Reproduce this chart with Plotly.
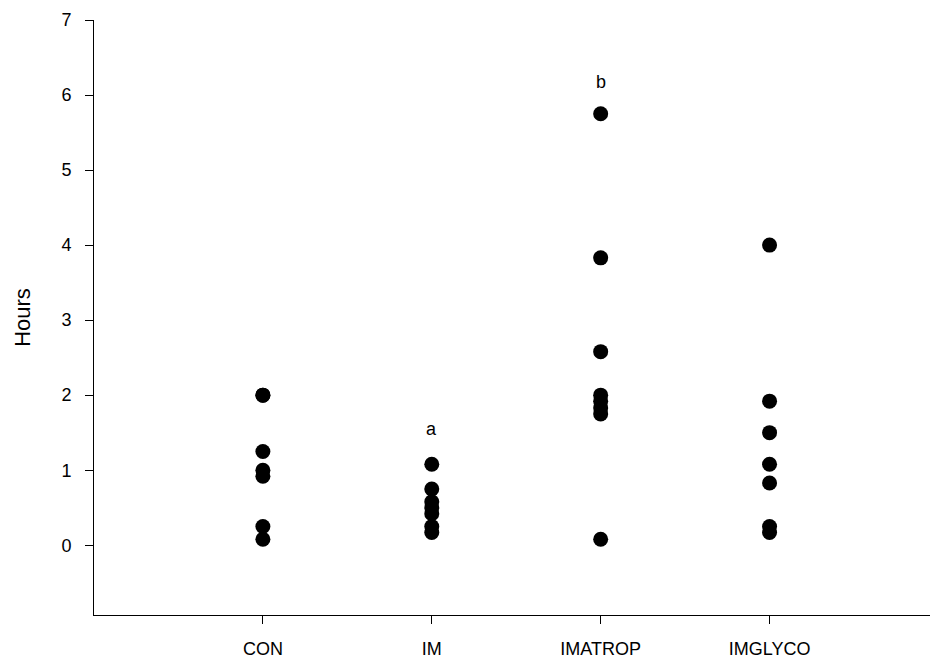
import plotly.graph_objects as go

categories = ["CON", "IM", "IMATROP", "IMGLYCO"]
con = [2.0, 2.0, 1.25, 1.0, 0.92, 0.25, 0.08]
im = [1.08, 0.75, 0.58, 0.5, 0.42, 0.25, 0.17]
imatrop = [5.75, 3.83, 2.58, 2.0, 1.92, 1.83, 1.75, 0.08]
imglyco = [4.0, 1.92, 1.5, 1.08, 0.83, 0.25, 0.17]
groups = [con, im, imatrop, imglyco]
letters = [("IM", 1.55, "a"), ("IMATROP", 6.17, "b")]

fig = go.Figure()
for i, vals in enumerate(groups):
    fig.add_trace(go.Scatter(
        x=[i + 1] * len(vals), y=vals, mode="markers",
        marker=dict(color="black", size=15, line=dict(width=0)),
        showlegend=False, hoverinfo="y"))

fam = "Arial, Liberation Sans, sans-serif"
for cat, yv, txt in letters:
    fig.add_annotation(x=categories.index(cat) + 1, y=yv, text=txt,
                       showarrow=False, font=dict(family=fam, size=18, color="black"))

axis_font = dict(family=fam, size=18, color="black")
fig.update_layout(
    width=930, height=660,
    margin=dict(l=94, r=0, t=20, b=45),
    plot_bgcolor="white", paper_bgcolor="white",
    font=axis_font,
    xaxis=dict(range=[0, 4.95], tickmode="array", tickvals=[1, 2, 3, 4],
               ticktext=categories, showgrid=False, zeroline=False,
               showline=True, linecolor="black", linewidth=1,
               ticks="outside", ticklen=8, tickcolor="black",
               ticklabelstandoff=9, tickfont=axis_font),
    yaxis=dict(range=[-0.93, 7], tickmode="array", tickvals=list(range(0, 8)),
               showgrid=False, zeroline=False,
               showline=True, linecolor="black", linewidth=1,
               ticks="outside", ticklen=8, tickcolor="black",
               ticklabelstandoff=10, tickfont=axis_font,
               title=dict(text="Hours", font=dict(family=fam, size=22, color="black"), standoff=24)),
)
fig.write_html("out.html", config={"displayModeBar": False},
               post_script="document.body.style.margin='0px';document.body.style.overflow='hidden';")
